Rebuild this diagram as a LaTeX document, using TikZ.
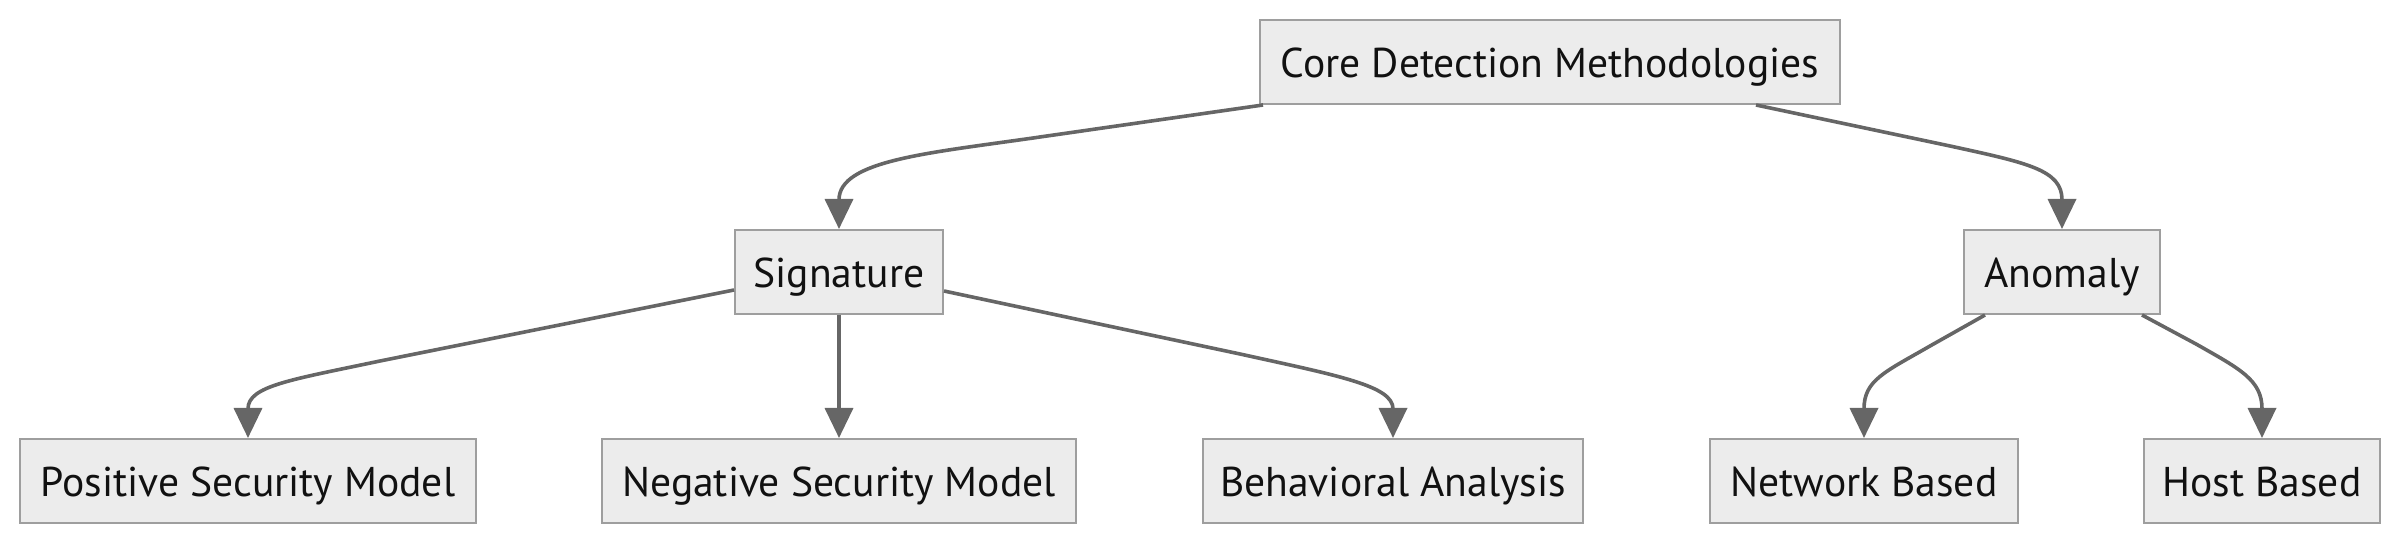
\documentclass[tikz,border=0pt]{standalone}
\usepackage{fontspec}
\setmainfont{PT Sans}
\usetikzlibrary{arrows.meta}
\definecolor{boxfill}{HTML}{ECECEC}
\definecolor{boxline}{HTML}{9E9E9E}
\definecolor{edgecol}{HTML}{666666}
\definecolor{txt}{HTML}{111111}
\begin{document}
\begin{tikzpicture}[x=0.5pt,y=-0.5pt,
  box/.style={draw=boxline, fill=boxfill, line width=1pt, minimum height=42pt, inner sep=0pt, text=txt, text height=18pt, text depth=2pt, font=\fontsize{20.8}{24}\selectfont},
  edge/.style={draw=edgecol, line width=1.8pt, -{Triangle[length=15pt,width=14pt]}}]
\useasboundingbox (0,0) rectangle (2400,544);
\node[box, minimum width=290pt] (core) at (1550,62) {Core Detection Methodologies};
\node[box, minimum width=104pt] (sig) at (839,272) {Signature};
\node[box, minimum width=98pt] (anom) at (2062,272) {Anomaly};
\node[box, minimum width=228pt] (pos) at (248,481) {Positive Security Model};
\node[box, minimum width=237pt] (neg) at (839,481) {Negative Security Model};
\node[box, minimum width=190pt] (beh) at (1393,481) {Behavioral Analysis};
\node[box, minimum width=154pt] (net) at (1864,481) {Network Based};
\node[box, minimum width=118pt] (host) at (2262,481) {Host Based};
\path[edge] ([xshift=2pt]core.south west) -- (1040,137) .. controls (930,153) and (839,160) .. (sig.north);
\path[edge] ([xshift=-42.5pt]core.south east) -- (1950,146) .. controls (2028,163) and (2062,170) .. (anom.north);
\path[edge] ([yshift=-9pt]sig.west) -- (380,361) .. controls (290,380) and (248,386) .. (pos.north);
\path[edge] (sig.south) -- (neg.north);
\path[edge] ([yshift=-9.5pt]sig.east) -- (1240,354) .. controls (1340,376) and (1393,386) .. (beh.north);
\path[edge] ([xshift=-38.5pt]anom.south) -- (1930,346) .. controls (1885,372) and (1864,380) .. (net.north);
\path[edge] ([xshift=40pt]anom.south) -- (2196,344) .. controls (2240,369) and (2262,380) .. (host.north);
\end{tikzpicture}
\end{document}
